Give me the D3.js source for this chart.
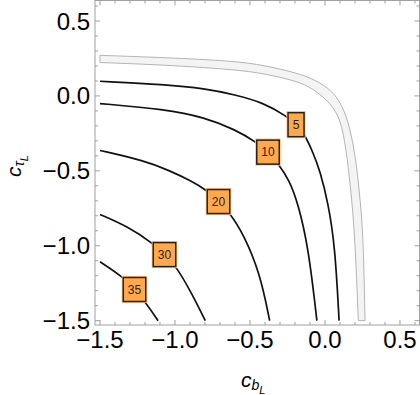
<!DOCTYPE html>
<html><head><meta charset="utf-8">
<script src="https://cdn.jsdelivr.net/npm/d3@7"></script>
<style>html,body{margin:0;padding:0;background:#fff;}svg{display:block;}</style>
</head><body>
<script>
// ---- data ----
const xTicksMajor = [-1.5, -1.0, -0.5, 0.0, 0.5];
const yTicksMajor = [-1.5, -1.0, -0.5, 0.0, 0.5];
const xTickLabels = ["\u22121.5", "\u22121.0", "\u22120.5", "0.0", "0.5"];
const yTickLabels = ["\u22121.5", "\u22121.0", "\u22120.5", "0.0", "0.5"];
const minorTicks = [-1.4,-1.3,-1.2,-1.1,-0.9,-0.8,-0.7,-0.6,-0.4,-0.3,-0.2,-0.1,0.1,0.2,0.3,0.4,0.6];

const contour5  = [[-1.5,0.098],[-1.067,0.076],[-0.8,0.049],[-0.6,0.008],[-0.411,-0.045],[-0.255,-0.135],[-0.193,-0.192],[-0.135,-0.255],[-0.078,-0.384],[-0.035,-0.495],[0.022,-0.717],[0.067,-1.007],[0.094,-1.5]];
const contour10 = [[-1.5,-0.051],[-1.067,-0.089],[-0.8,-0.144],[-0.6,-0.224],[-0.455,-0.31],[-0.38,-0.375],[-0.31,-0.455],[-0.238,-0.562],[-0.18,-0.717],[-0.111,-1.007],[-0.054,-1.5]];
const contour20 = [[-1.5,-0.364],[-1.2,-0.433],[-1.045,-0.495],[-0.889,-0.568],[-0.789,-0.629],[-0.71,-0.705],[-0.633,-0.784],[-0.545,-0.92],[-0.433,-1.184],[-0.369,-1.5]];
const contour30 = [[-1.5,-0.791],[-1.311,-0.873],[-1.145,-0.985],[-1.07,-1.059],[-0.99,-1.14],[-0.889,-1.317],[-0.798,-1.5]];
const contour35 = [[-1.5,-1.107],[-1.351,-1.205],[-1.27,-1.292],[-1.2,-1.373],[-1.113,-1.5]];
const contours = [contour5, contour10, contour20, contour30, contour35];

const contourLabels = ["5", "10", "20", "30", "35"];
const labelX = [-0.193, -0.38, -0.71, -1.07, -1.27];
const labelY = [-0.192, -0.375, -0.705, -1.059, -1.292];

const bandOuter = [[-1.5,0.271],[-1.067,0.256],[-0.6,0.233],[-0.411,0.205],[-0.189,0.155],[-0.06,0.105],[0.04,0.04],[0.11,-0.05],[0.167,-0.207],[0.21,-0.45],[0.235,-0.7],[0.255,-0.94],[0.267,-1.5]];
const bandInner = [[-1.5,0.223],[-1.067,0.207],[-0.6,0.176],[-0.411,0.15],[-0.189,0.1],[-0.08,0.05],[0.04,-0.05],[0.105,-0.16],[0.14,-0.35],[0.17,-0.6],[0.2,-0.94],[0.222,-1.5]];

const xDomain = [-1.5333, 0.63];
const yDomain = [-1.529, 0.637];

// ---- drawing ----
const W = 420, H = 395;
const svg = d3.select("body").append("svg").attr("width", W).attr("height", H)
  .attr("font-family", "'Liberation Sans', Arial, sans-serif");

const L = 95, R = 419.5, T = 0.5, B = 325;
const x = d3.scaleLinear().domain(xDomain).range([L, R]);
const y = d3.scaleLinear().domain(yDomain).range([B, T]);

// band
const bandLine = d3.line().x(d => x(d[0])).y(d => y(d[1])).curve(d3.curveBasis);
const outerPath = bandLine(bandOuter);
const innerPath = bandLine(bandInner.slice().reverse());
svg.append("path")
  .attr("d", outerPath + "L" + innerPath.slice(1) + "Z")
  .attr("fill", "#f4f4f4").attr("stroke", "#b4b4b4").attr("stroke-width", 1);

// contour lines
const line = d3.line().x(d => x(d[0])).y(d => y(d[1])).curve(d3.curveBasis);
svg.selectAll("path.contour").data(contours).enter().append("path")
  .attr("class", "contour").attr("d", line)
  .attr("fill", "none").attr("stroke", "#111").attr("stroke-width", 1.7);

// labels
contourLabels.forEach((t, i) => {
  const cx = x(labelX[i]), cy = y(labelY[i]);
  const w = t.length === 1 ? 16 : 22.5, h = 24;
  svg.append("rect").attr("x", cx - w/2).attr("y", cy - h/2).attr("width", w).attr("height", h)
    .attr("fill", "none").attr("stroke", "#ffc68a").attr("stroke-width", 3.2);
  svg.append("rect").attr("x", cx - w/2).attr("y", cy - h/2).attr("width", w).attr("height", h)
    .attr("fill", "#ffa94f").attr("stroke", "#2a2218").attr("stroke-width", 1.5);
  svg.append("text").attr("x", cx).attr("y", cy + 4.3).attr("text-anchor", "middle")
    .attr("font-size", 12).attr("fill", "#2a2218").text(t);
});

// frame
svg.append("rect").attr("x", L).attr("y", T).attr("width", R - L).attr("height", B - T)
  .attr("fill", "none").attr("stroke", "#a0a0a0").attr("stroke-width", 1);

const tickColor = "#a0a0a0";
function ticksX(vals, len) {
  vals.forEach(v => {
    svg.append("line").attr("x1", x(v)).attr("x2", x(v)).attr("y1", B).attr("y2", B - len).attr("stroke", tickColor);
    svg.append("line").attr("x1", x(v)).attr("x2", x(v)).attr("y1", T).attr("y2", T + len).attr("stroke", tickColor);
  });
}
function ticksY(vals, len) {
  vals.forEach(v => {
    svg.append("line").attr("y1", y(v)).attr("y2", y(v)).attr("x1", L).attr("x2", L + len).attr("stroke", tickColor);
    svg.append("line").attr("y1", y(v)).attr("y2", y(v)).attr("x1", R).attr("x2", R - len).attr("stroke", tickColor);
  });
}
ticksX(xTicksMajor, 5); ticksX(minorTicks, 3);
ticksY(yTicksMajor, 5); ticksY(minorTicks, 3);

// tick labels
xTicksMajor.forEach((v, i) => {
  svg.append("text").attr("x", x(v)).attr("y", 348).attr("text-anchor", "middle")
    .attr("font-size", 24).attr("fill", "#000").text(xTickLabels[i]);
});
yTicksMajor.forEach((v, i) => {
  svg.append("text").attr("x", 90).attr("y", y(v) + 8.5).attr("text-anchor", "end")
    .attr("font-size", 24).attr("fill", "#000").text(yTickLabels[i]);
});

// axis titles
const xt = svg.append("text").attr("x", 241).attr("y", 387).attr("fill", "#000").attr("font-style", "italic");
xt.append("tspan").attr("font-size", 21).text("c");
xt.append("tspan").attr("font-size", 14).attr("dy", 3).text("b");
xt.append("tspan").attr("font-size", 11).attr("dy", 4).text("L");

const yt = svg.append("text").attr("transform", "translate(20.5,177) rotate(-90)").attr("fill", "#000").attr("font-style", "italic");
yt.append("tspan").attr("font-size", 21).text("c");
yt.append("tspan").attr("font-size", 14).attr("dy", 3).text("\u03c4");
yt.append("tspan").attr("font-size", 11).attr("dy", 4).text("L");
</script>
</body></html>
